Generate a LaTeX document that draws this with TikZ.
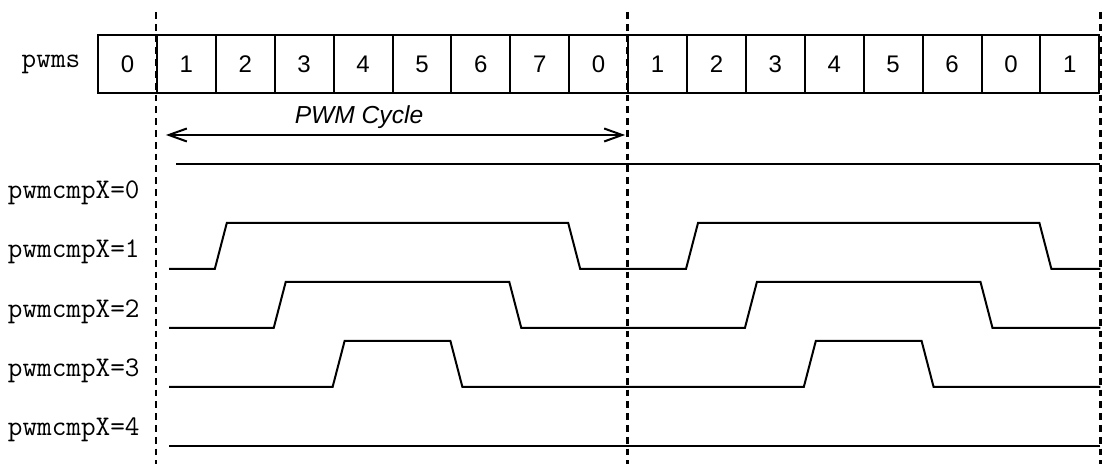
\documentclass[tikz,border=0pt]{standalone}
\usepackage{fontspec}
\setmainfont{Liberation Sans}
\usetikzlibrary{arrows.meta}
\newcommand{\pulse}[5]{\draw[signal] (lo#1) -- (c#2.west |- lo#1) -- ++(12,46) -- (c#3.west |- hi#1) -- ++(12,-46)
  -- (c#4.west |- lo#1) -- ++(12,46) -- (c#5.west |- hi#1) -- ++(12,-46) -- (c16.east |- lo#1)}

\begin{document}
\begin{tikzpicture}[
      x=0.5pt,y=0.5pt,
      cell/.style={rectangle,draw=black,line width=1pt,minimum width=29.45pt,minimum height=29pt,inner sep=0pt,font=\fontsize{12}{14}\selectfont},
      siglabel/.style={anchor=east,inner sep=0pt,font=\ttfamily\fontsize{14.2}{16}\selectfont},
      signal/.style={line width=1pt,line join=miter},
      cyclemark/.style={line width=1.4pt,dash pattern=on 3.4pt off 2.5pt},
      cyclearrow/.style={line width=1pt,{Straight Barb[length=9pt,width=6.5pt]}-{Straight Barb[length=9pt,width=6.5pt]}}
      ]
      \useasboundingbox (0,0) rectangle (1103,464);
      \foreach \v [count=\i from 0] in {0,1,2,3,4,5,6,7,0,1,2,3,4,5,6,0,1}
        \node[cell] (c\i) at (127.45+58.9*\i,400) {\v};
      \node[siglabel,anchor=center] (pwms) at (51,400) {pwms};
      \foreach \k in {0,...,4} {
        \coordinate (hi\k) at (169,300-59*\k);
        \coordinate (lo\k) at (169,254-59*\k);
        \node[siglabel] (lbl\k) at (140,271-59.25*\k) {pwmcmpX=\k};
      }
      \path (c1.west) ++(10,-71) coordinate (cycstart);
      \path (c9.west) ++(-2,-71) coordinate (cycend);
      \draw[cyclearrow] (cycstart) -- (cycend);
      \node[font=\itshape\fontsize{12.3}{14}\selectfont] (cycle) at (359,347) {PWM Cycle};
      \draw[signal] ([xshift=3.5pt]hi0) -- (c16.east |- hi0);
      \pulse{1}{2}{8}{10}{16};
      \pulse{2}{3}{7}{11}{15};
      \pulse{3}{4}{6}{12}{14};
      \draw[signal] (lo4) -- (c16.east |- lo4);
      \draw[cyclemark] (c1.west |- 0,452) -- (c1.west |- 0,0);
      \draw[cyclemark] (c9.west |- 0,452) -- (c9.west |- 0,0);
      \draw[cyclemark] (c16.east |- 0,452) -- (c16.east |- 0,0);
    \end{tikzpicture}
\end{document}
